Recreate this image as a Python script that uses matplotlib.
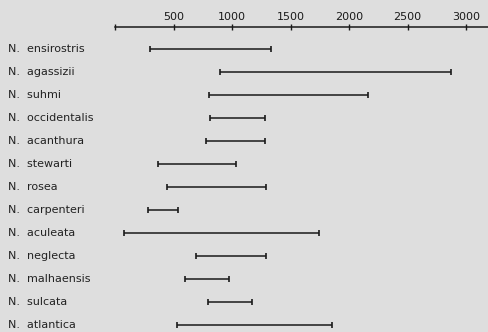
import numpy as np
import matplotlib.pyplot as plt

# species and depth ranges (start, end)
species = ['ensirostris', 'agassizii', 'suhmi', 'occidentalis', 'acanthura',
           'stewarti', 'rosea', 'carpenteri', 'aculeata', 'neglecta',
           'malhaensis', 'sulcata', 'atlantica']
range_min = [300, 900, 800, 810, 780, 370, 445, 280, 80, 690, 600, 795, 530]
range_max = [1330, 2870, 2160, 1280, 1280, 1035, 1290, 540, 1745, 1290, 975, 1170, 1855]
tick_vals = [0, 500, 1000, 1500, 2000, 2500, 3000]
tick_labels = ['', '500', '1000', '1500', '2000', '2500', '3000']

bg = '#dedede'
ink = '#1a1a1a'

fig = plt.figure(figsize=(4.88, 3.32), dpi=100, facecolor=bg)
ax = fig.add_axes([0, 0, 1, 1], facecolor=bg)

rows = np.arange(len(species))
ax.hlines(rows, range_min, range_max, color=ink, linewidth=1.1)
ax.plot(range_min, rows, linestyle='none', marker='|', color=ink, markersize=4, markeredgewidth=1.2)
ax.plot(range_max, rows, linestyle='none', marker='|', color=ink, markersize=4, markeredgewidth=1.2)

for i, name in enumerate(species):
    ax.text(-915, i, 'N.  ' + name, fontsize=8, color='#222222',
            ha='left', va='center', family='DejaVu Sans')

ax.set_xlim(-983, 3188)
ax.set_ylim(12.3, -2.13)

for s in ['left', 'right', 'bottom']:
    ax.spines[s].set_visible(False)
ax.spines['top'].set_position(('data', -0.957))
ax.spines['top'].set_bounds(0, 3200)
ax.spines['top'].set_linewidth(1.1)
ax.spines['top'].set_color(ink)
ax.xaxis.set_ticks_position('top')
ax.set_xticks(tick_vals)
ax.set_xticklabels(tick_labels, fontsize=8, color='#222222')
ax.tick_params(axis='x', direction='inout', length=5, width=1, pad=1, colors=ink)
ax.set_yticks([])

fig.savefig('out.png', dpi=100, facecolor=bg)
